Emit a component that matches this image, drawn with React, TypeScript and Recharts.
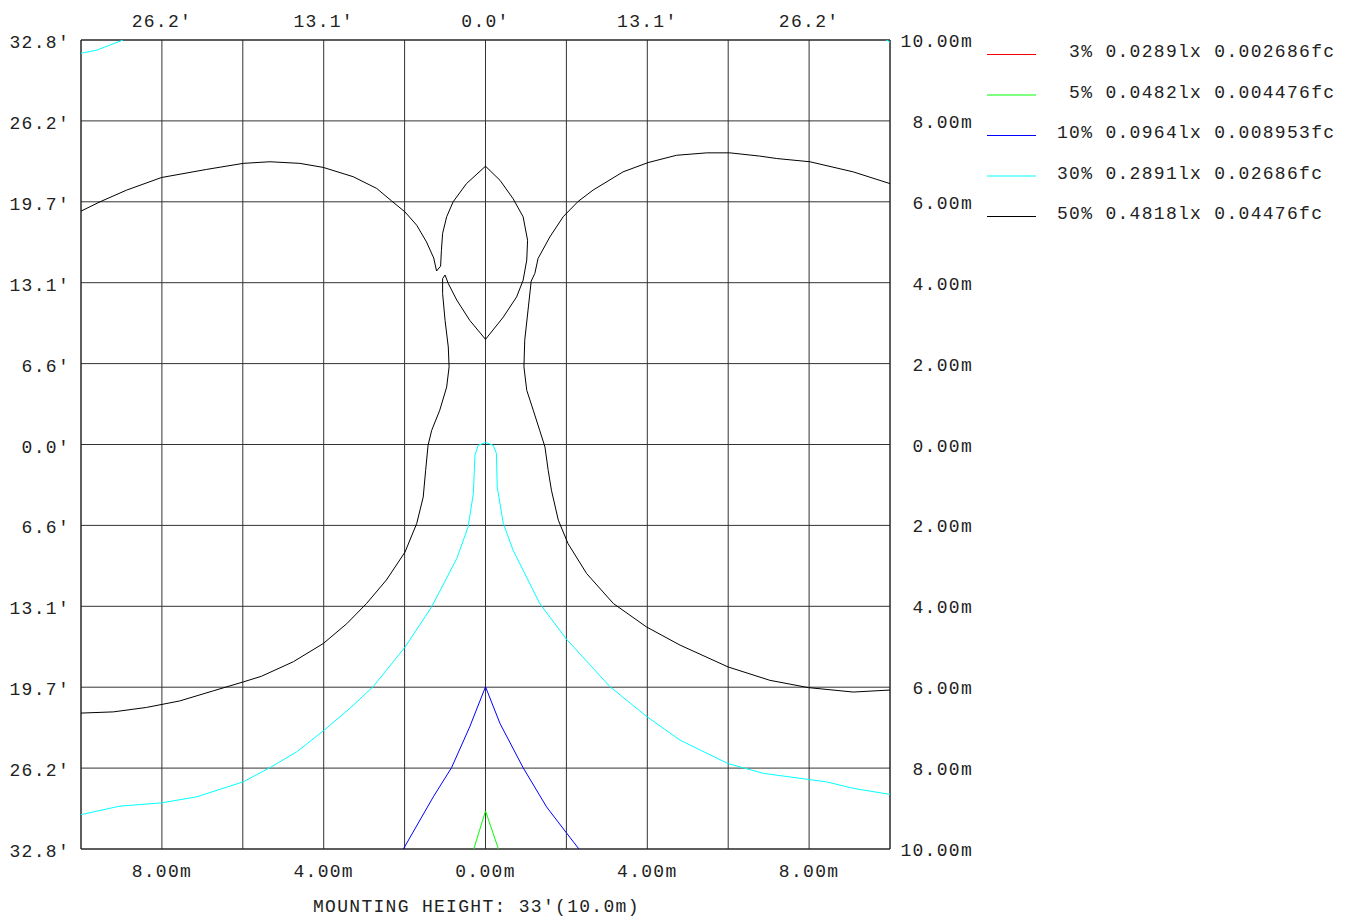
import React from 'react';
import { ScatterChart, Scatter, XAxis, YAxis, CartesianGrid } from 'recharts';

// positions on the ground, metres from the luminaire
const gridTicks = [-10, -8, -6, -4, -2, 0, 2, 4, 6, 8, 10];
const sideFeet = ["32.8'", "26.2'", "19.7'", "13.1'", "6.6'", "0.0'", "6.6'", "13.1'", "19.7'", "26.2'", "32.8'"];
const sideMetres = ['10.00m', '8.00m', '6.00m', '4.00m', '2.00m', '0.00m', '2.00m', '4.00m', '6.00m', '8.00m', '10.00m'];
const topFeet = ['', "26.2'", '', "13.1'", '', "0.0'", '', "13.1'", '', "26.2'", ''];
const bottomMetres = ['', '8.00m', '', '4.00m', '', '0.00m', '', '4.00m', '', '8.00m', ''];

// 50% contour (two pieces)
const black50Left = [
  { x: -10, y: 5.77 }, { x: -9.53, y: 6.0 }, { x: -8.87, y: 6.29 }, { x: -8.01, y: 6.6 },
  { x: -6.9, y: 6.8 }, { x: -5.99, y: 6.95 }, { x: -5.33, y: 6.99 }, { x: -4.59, y: 6.95 },
  { x: -4.01, y: 6.85 }, { x: -3.27, y: 6.62 }, { x: -2.69, y: 6.33 }, { x: -2.32, y: 6.02 },
  { x: -1.99, y: 5.75 }, { x: -1.7, y: 5.42 }, { x: -1.46, y: 5.01 }, { x: -1.28, y: 4.61 },
  { x: -1.21, y: 4.29 }, { x: -1.11, y: 4.41 }, { x: -1.09, y: 4.8 }, { x: -1.06, y: 5.22 },
  { x: -0.96, y: 5.63 }, { x: -0.8, y: 6.0 }, { x: -0.47, y: 6.45 }, { x: 0, y: 6.88 },
  { x: 0.36, y: 6.53 }, { x: 0.68, y: 6.08 }, { x: 0.93, y: 5.63 }, { x: 1.04, y: 5.05 },
  { x: 1.02, y: 4.56 }, { x: 0.93, y: 4.06 }, { x: 0.77, y: 3.65 }, { x: 0.44, y: 3.15 },
  { x: 0, y: 2.6 }, { x: -0.39, y: 3.07 }, { x: -0.71, y: 3.57 }, { x: -0.92, y: 3.98 },
  { x: -1.0, y: 4.19 }, { x: -1.06, y: 4.1 }, { x: -1.06, y: 3.73 }, { x: -1.0, y: 3.07 },
  { x: -0.92, y: 2.41 }, { x: -0.9, y: 1.92 }, { x: -0.96, y: 1.42 }, { x: -1.13, y: 0.85 },
  { x: -1.33, y: 0.35 }, { x: -1.42, y: -0.02 }, { x: -1.48, y: -0.64 }, { x: -1.54, y: -1.3 },
  { x: -1.7, y: -1.95 }, { x: -1.99, y: -2.66 }, { x: -2.45, y: -3.35 }, { x: -2.94, y: -3.93 },
  { x: -3.43, y: -4.43 }, { x: -4.01, y: -4.92 }, { x: -4.75, y: -5.37 }, { x: -5.54, y: -5.73 },
  { x: -5.99, y: -5.87 }, { x: -6.73, y: -6.09 }, { x: -7.56, y: -6.34 }, { x: -8.38, y: -6.5 },
  { x: -9.2, y: -6.61 }, { x: -10, y: -6.64 },
];
const black50Right = [
  { x: 10, y: 6.45 }, { x: 9.09, y: 6.74 }, { x: 8.02, y: 6.99 }, { x: 7.2, y: 7.07 },
  { x: 6.78, y: 7.13 }, { x: 6.04, y: 7.21 }, { x: 5.47, y: 7.21 }, { x: 4.72, y: 7.15 },
  { x: 4.02, y: 6.97 }, { x: 3.4, y: 6.74 }, { x: 2.66, y: 6.29 }, { x: 2.29, y: 6.01 },
  { x: 1.92, y: 5.63 }, { x: 1.59, y: 5.13 }, { x: 1.3, y: 4.6 }, { x: 1.22, y: 4.23 },
  { x: 1.13, y: 4.04 }, { x: 1.06, y: 3.4 }, { x: 0.97, y: 2.58 }, { x: 0.95, y: 1.92 },
  { x: 1.02, y: 1.34 }, { x: 1.18, y: 0.85 }, { x: 1.34, y: 0.35 }, { x: 1.47, y: -0.06 },
  { x: 1.55, y: -0.64 }, { x: 1.63, y: -1.13 }, { x: 1.8, y: -1.87 }, { x: 2.04, y: -2.45 },
  { x: 2.5, y: -3.19 }, { x: 3.16, y: -3.93 }, { x: 3.98, y: -4.51 }, { x: 4.81, y: -4.96 },
  { x: 6.0, y: -5.5 }, { x: 7.03, y: -5.83 }, { x: 7.98, y: -6.01 }, { x: 9.09, y: -6.12 },
  { x: 10, y: -6.07 },
];

// 30% contour
const cyan30Main = [
  { x: -10, y: -9.15 }, { x: -9.04, y: -8.94 }, { x: -8.01, y: -8.86 }, { x: -7.14, y: -8.71 },
  { x: -5.99, y: -8.34 }, { x: -5.33, y: -7.99 }, { x: -4.67, y: -7.6 }, { x: -4.01, y: -7.08 },
  { x: -3.35, y: -6.52 }, { x: -2.78, y: -5.99 }, { x: -1.99, y: -5.01 }, { x: -1.33, y: -4.01 },
  { x: -0.71, y: -2.82 }, { x: -0.43, y: -2.04 }, { x: -0.3, y: -1.21 }, { x: -0.26, y: -0.26 },
  { x: -0.18, y: -0.02 }, { x: 0, y: 0.05 }, { x: 0.19, y: -0.02 }, { x: 0.27, y: -0.22 },
  { x: 0.29, y: -1.05 }, { x: 0.44, y: -1.95 }, { x: 0.68, y: -2.61 }, { x: 1.34, y: -3.93 },
  { x: 2.0, y: -4.81 }, { x: 3.08, y: -5.99 }, { x: 3.98, y: -6.72 }, { x: 4.81, y: -7.31 },
  { x: 6.0, y: -7.89 }, { x: 6.87, y: -8.13 }, { x: 7.98, y: -8.28 }, { x: 8.43, y: -8.34 },
  { x: 9.09, y: -8.5 }, { x: 10, y: -8.65 },
];
const cyan30TopLeft = [{ x: -10, y: 9.67 }, { x: -9.61, y: 9.75 }, { x: -8.96, y: 10 }];
const cyan30TopRight = [{ x: 9.9, y: 10 }, { x: 10, y: 9.95 }];

// 10% and 5% contours
const blue10 = [
  { x: -2.03, y: -10 }, { x: -1.29, y: -8.71 }, { x: -0.84, y: -7.99 }, { x: -0.39, y: -6.98 },
  { x: 0, y: -5.99 }, { x: 0.36, y: -6.9 }, { x: 0.93, y: -7.99 }, { x: 1.51, y: -8.96 },
  { x: 2.0, y: -9.6 }, { x: 2.31, y: -10 },
];
const green5 = [{ x: -0.29, y: -10 }, { x: 0, y: -9.06 }, { x: 0.32, y: -10 }];
const red3: { x: number; y: number }[] = [];

const legendColors = ['#ff0000', '#00ff00', '#0000ff', '#00ffff', '#000000'];
const legendLabels = [
  ' 3% 0.0289lx 0.002686fc',
  ' 5% 0.0482lx 0.004476fc',
  '10% 0.0964lx 0.008953fc',
  '30% 0.2891lx 0.02686fc',
  '50% 0.4818lx 0.04476fc',
];

const FONT = '"Liberation Mono", "Courier New", monospace';
const textStyle = { fontFamily: FONT, fontSize: 18, letterSpacing: 1.3, fill: '#222', whiteSpace: 'pre' as const };

const toMap = (labels: string[]) => Object.fromEntries(gridTicks.map((t, i) => [t, labels[i]]));

const makeTick = (labels: string[], dx: number, dy: number, anchor: 'start' | 'middle' | 'end') => {
  const map = toMap(labels);
  return (props: any) => {
    const { x, y, payload } = props;
    const text = map[payload.value];
    if (!text) return <g />;
    return (
      <text x={x + dx} y={y + dy} textAnchor={anchor} style={textStyle}>
        {text}
      </text>
    );
  };
};

const NoDot = () => <g />;

export default function App() {
  const axisLine = { stroke: '#222', strokeWidth: 1 };
  const series = [
    { data: red3, color: legendColors[0], x: 'b', y: 'l' },
    { data: green5, color: legendColors[1], x: 't', y: 'r' },
    { data: blue10, color: legendColors[2], x: 't', y: 'r' },
    { data: cyan30Main, color: legendColors[3], x: 't', y: 'r' },
    { data: cyan30TopLeft, color: legendColors[3], x: 't', y: 'r' },
    { data: cyan30TopRight, color: legendColors[3], x: 't', y: 'r' },
    { data: black50Left, color: legendColors[4], x: 'b', y: 'l' },
    { data: black50Right, color: legendColors[4], x: 'b', y: 'l' },
  ];

  return (
    <div style={{ position: 'absolute', left: 0, top: 0, width: 1354, height: 920, background: '#fff' }}>
      <ScatterChart width={1354} height={920} margin={{ top: 0, right: 374, bottom: 41, left: 0 }}>
        <CartesianGrid xAxisId="b" yAxisId="l" stroke="#333" strokeWidth={1} />
        <XAxis
          xAxisId="b" orientation="bottom" type="number" dataKey="x" domain={[-10, 10]} ticks={gridTicks}
          allowDataOverflow interval={0} height={30} tickSize={0} tickMargin={0} axisLine={axisLine} tickLine={false}
          tick={makeTick(bottomMetres, 0, 28, 'middle')}
        />
        <XAxis
          xAxisId="t" orientation="top" type="number" dataKey="x" domain={[-10, 10]} ticks={gridTicks}
          allowDataOverflow interval={0} height={40} tickSize={0} tickMargin={0} axisLine={axisLine} tickLine={false}
          tick={makeTick(topFeet, 0, -13, 'middle')}
        />
        <YAxis
          yAxisId="l" orientation="left" type="number" dataKey="y" domain={[-10, 10]} ticks={gridTicks}
          allowDataOverflow interval={0} width={81} tickSize={0} tickMargin={0} axisLine={axisLine} tickLine={false}
          tick={makeTick(sideFeet, -11, 8, 'end')}
        />
        <YAxis
          yAxisId="r" orientation="right" type="number" dataKey="y" domain={[-10, 10]} ticks={gridTicks}
          allowDataOverflow interval={0} width={90} tickSize={0} tickMargin={0} axisLine={axisLine} tickLine={false}
          tick={makeTick(sideMetres, 83, 7, 'end')}
        />
        {series.map((s, i) => (
          <Scatter
            key={i}
            data={s.data}
            xAxisId={s.x}
            yAxisId={s.y}
            fill={s.color}
            shape={NoDot}
            line={{ stroke: s.color, strokeWidth: 1 }}
            lineType="joint"
            isAnimationActive={false}
          />
        ))}
      </ScatterChart>
      <svg width={1354} height={920} style={{ position: 'absolute', left: 0, top: 0, pointerEvents: 'none' }}>
        {legendLabels.map((label, i) => {
          const ly = 54.5 + i * 40.5;
          return (
            <g key={label}>
              <line x1={987} x2={1036} y1={ly} y2={ly} stroke={legendColors[i]} strokeWidth={1} />
              <text x={1057} y={ly + 2.5} style={textStyle}>{label}</text>
            </g>
          );
        })}
        <text x={313} y={912} style={textStyle}>MOUNTING HEIGHT: 33'(10.0m)</text>
      </svg>
    </div>
  );
}
